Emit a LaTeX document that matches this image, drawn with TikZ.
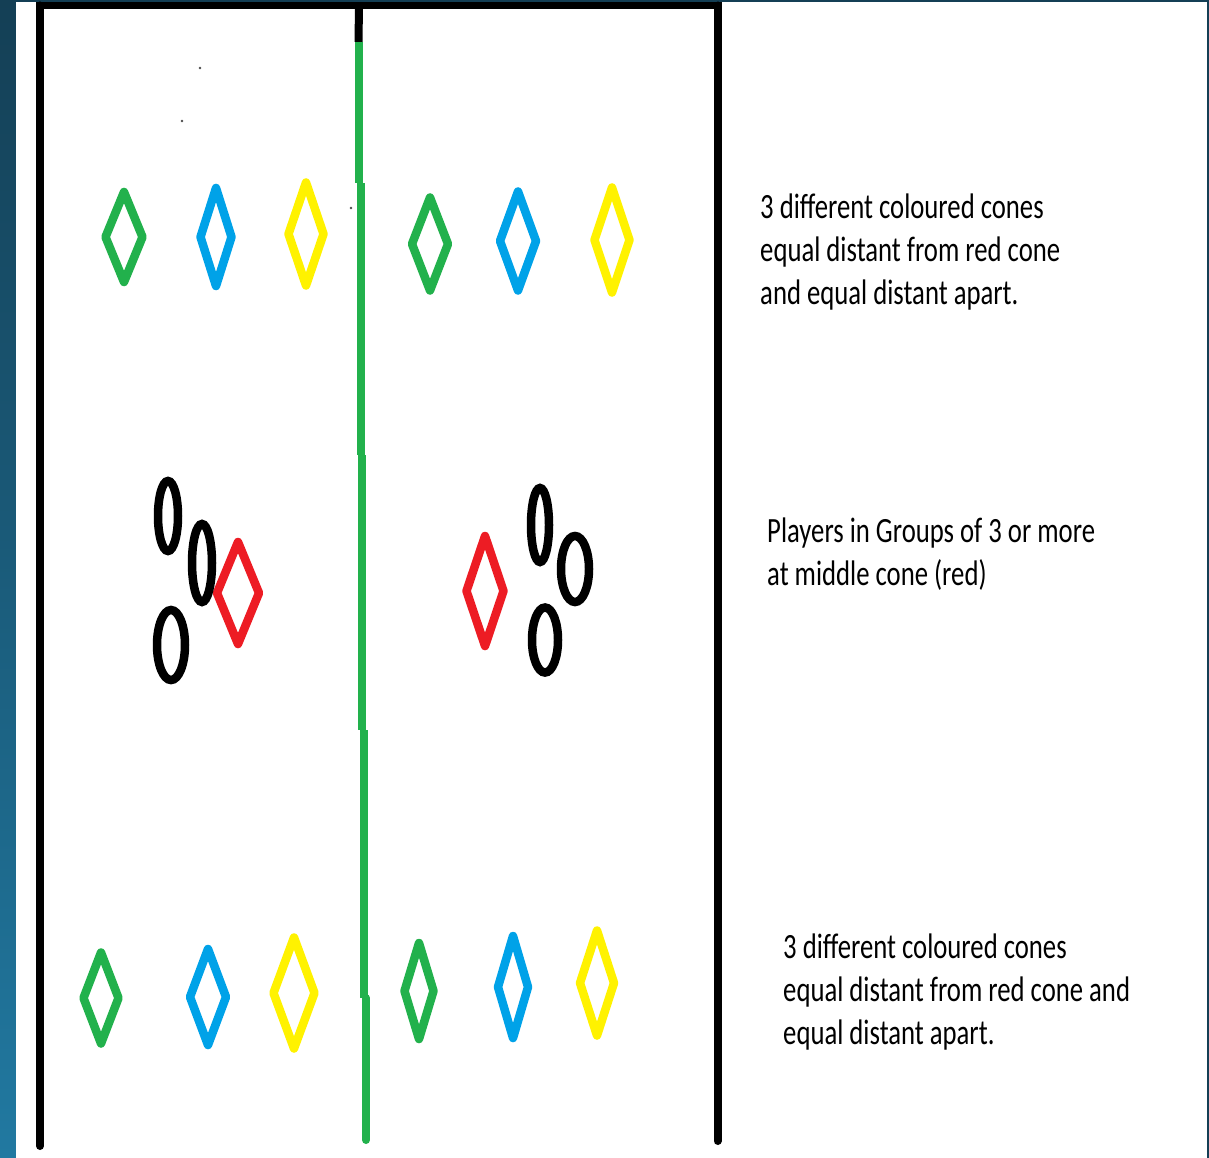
\documentclass[tikz,border=0pt]{standalone}
\usepackage{fontspec}
\setmainfont{Carlito}
\usetikzlibrary{shapes.geometric}

\definecolor{conegreen}{RGB}{34,177,76}
\definecolor{coneblue}{RGB}{0,162,232}
\definecolor{coneyellow}{RGB}{255,242,0}
\definecolor{conered}{RGB}{237,28,36}
\definecolor{framedark}{RGB}{20,63,85}
\definecolor{stripbottom}{RGB}{33,121,161}

\begin{document}
\begin{tikzpicture}[
    x=1pt, y=-1pt,
    cone/.style={diamond, draw=#1, line width=8.5pt, line join=round, inner sep=0pt, outer sep=0pt},
    player/.style={ellipse, draw=black, line width=8.5pt, inner sep=0pt, outer sep=0pt},
    fieldline/.style={line width=8pt, line cap=round},
    note/.style={font=\fontsize{26.7}{32.3}\selectfont, align=left, inner sep=0pt, anchor=base west, yscale=1.33, transform shape}
    ]

    % frame
    \useasboundingbox (0,0) rectangle (1209,1158);
    \fill[framedark] (0,0) rectangle (1209,1158);
    \shade[top color=framedark, bottom color=stripbottom] (0,0) rectangle (16,1158);
    \fill[white] (16,2) rectangle (1207,1158);

    % pitch
    \coordinate (nw) at (40,5.5);
    \coordinate (sw) at (40,1146);
    \coordinate (ne) at (717.5,5.5);
    \coordinate (se) at (717.5,1141);
    \coordinate (midtop) at (359,5.5);
    \coordinate (g1) at (358.5,42);
    \coordinate (g2) at (358.5,183);
    \coordinate (g3) at (361,183);
    \coordinate (g4) at (361,455);
    \coordinate (g5) at (362,455);
    \coordinate (g6) at (362,730);
    \coordinate (g7) at (364,730);
    \coordinate (g8) at (364,998);
    \coordinate (g9) at (366,998);
    \coordinate (g10) at (366,1140);

    \draw[fieldline] (nw) -- (sw);
    \draw[line width=7pt] ([xshift=-4pt]nw) -- ([xshift=4pt]ne);
    \draw[fieldline] (ne) -- (se);
    \draw[line width=8pt] (midtop) -- (g1);
    \draw[line width=8pt, conegreen] (g1) -- (g2) (g3) -- (g4) (g5) -- (g6) (g7) -- (g8);
    \draw[fieldline, conegreen] (g9) -- (g10);
    \draw[line width=8pt, conegreen] (g8) -- (g9);

    % stray dots
    \fill[black!70] (200,68) circle (1.3);
    \fill[black!70] (182,121) circle (1.3);
    \fill[black!70] (351,208) circle (1.3);

    % top row of cones
    \node[cone=conegreen, minimum width=37pt, minimum height=90pt] (tlgreen) at (124,237) {};
    \node[cone=coneblue, minimum width=31pt, minimum height=98pt] (tlblue) at (216,237) {};
    \node[cone=coneyellow, minimum width=35pt, minimum height=103pt] (tlyellow) at (306,234) {};
    \node[cone=conegreen, minimum width=36pt, minimum height=93pt] (trgreen) at (430,244) {};
    \node[cone=coneblue, minimum width=36pt, minimum height=99pt] (trblue) at (518,241) {};
    \node[cone=coneyellow, minimum width=35pt, minimum height=105pt] (tryellow) at (612,240) {};

    % middle cones and players
    \node[cone=conered, minimum width=42pt, minimum height=102pt] (lred) at (238,593) {};
    \node[cone=conered, minimum width=37pt, minimum height=110pt] (rred) at (485,591) {};
    \node[player, minimum width=20pt, minimum height=70pt] (lplayera) at (168,516) {};
    \node[player, minimum width=20pt, minimum height=78pt] (lplayerb) at (202,563) {};
    \node[player, minimum width=28pt, minimum height=70pt] (lplayerc) at (171,645) {};
    \node[player, minimum width=18pt, minimum height=74pt] (rplayera) at (540,525) {};
    \node[player, minimum width=28pt, minimum height=66pt] (rplayerb) at (575,569) {};
    \node[player, minimum width=26pt, minimum height=65pt] (rplayerc) at (545,640) {};

    % bottom row of cones
    \node[cone=conegreen, minimum width=35pt, minimum height=91pt] (blgreen) at (101,998) {};
    \node[cone=coneblue, minimum width=36pt, minimum height=96pt] (blblue) at (208,997) {};
    \node[cone=coneyellow, minimum width=41pt, minimum height=111pt] (blyellow) at (294,993) {};
    \node[cone=conegreen, minimum width=29pt, minimum height=96pt] (brgreen) at (419,991) {};
    \node[cone=coneblue, minimum width=30pt, minimum height=102pt] (brblue) at (513,987) {};
    \node[cone=coneyellow, minimum width=34pt, minimum height=105pt] (bryellow) at (597,983) {};

    % notes
    \node[note] (topnote) at (760,304) {3 different coloured cones\\equal distant from red cone\\and equal distant apart.};
    \node[note] (midnote) at (767,585) {Players in Groups of 3 or more\\at middle cone (red)};
    \node[note] (botnote) at (783,1044) {3 different coloured cones\\equal distant from red cone and\\equal distant apart.};
\end{tikzpicture}
\end{document}
